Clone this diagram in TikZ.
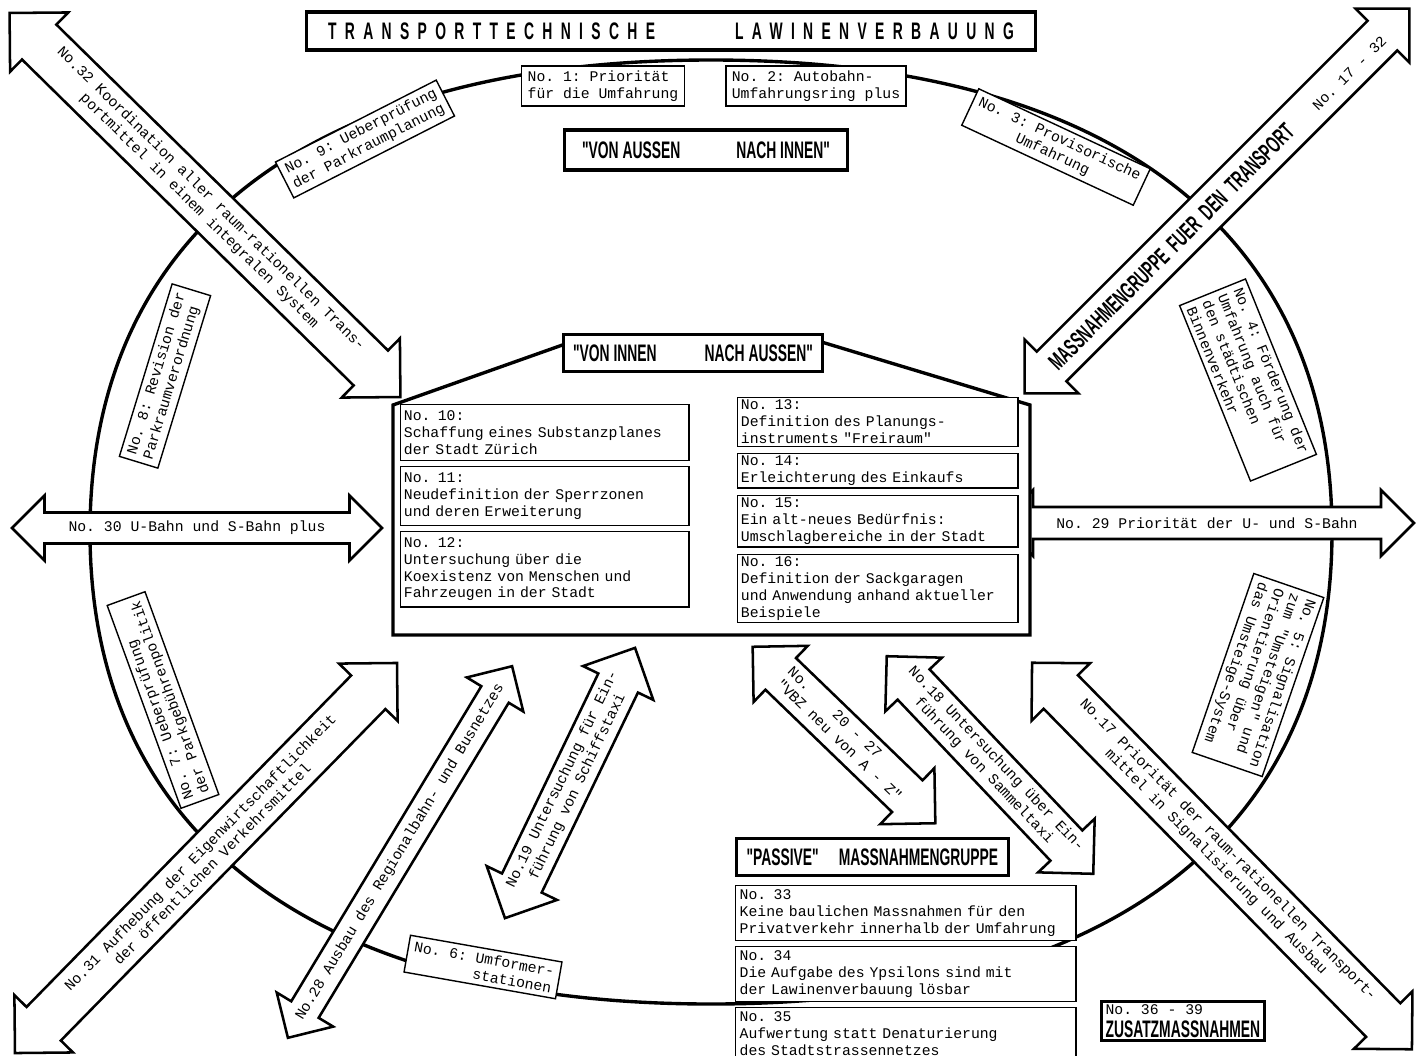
\documentclass[tikz,border=0pt]{standalone}
\usepackage{fontspec}
\setmonofont{Liberation Mono}
\newfontfamily\headfont[FakeStretch=0.58]{Liberation Sans Bold}
\newfontfamily\titlefont[FakeStretch=0.58,LetterSpace=35]{Liberation Sans Bold}
\usetikzlibrary{positioning}

\newcommand{\mono}{\ttfamily\fontsize{10.5}{12}\selectfont}
\newcommand{\heading}{\headfont\fontsize{17}{20}\selectfont}

% double block arrow: name, centre, angle, half length, half shaft, text
\newcommand{\bigarrow}[6]{%
  \begin{scope}[shift={#2},rotate=#3]
    \pgfmathsetmacro{\headw}{#5+17}
    \draw[arrowline] (-#4,0) -- (-#4+\headw,\headw) -- (-#4+\headw,#5)
      -- (#4-\headw,#5) -- (#4-\headw,\headw) -- (#4,0)
      -- (#4-\headw,-\headw) -- (#4-\headw,-#5) -- (-#4+\headw,-#5)
      -- (-#4+\headw,-\headw) -- cycle;
    \node[arrowtext,rotate=#3] (#1) at (0,0) {#6};
  \end{scope}}

\begin{document}
\begin{tikzpicture}[x=0.025cm,y=-0.025cm,
    ringline/.style={line width=2.4pt},
    ringbox/.style={draw,fill=white,line width=1pt,font=\mono,inner xsep=0.15cm,inner ysep=0.12cm,align=left},
    innerbox/.style={draw,fill=white,line width=1pt,font=\mono,inner xsep=0.08cm,align=left},
    leftbox/.style={innerbox,text width=7.05cm,inner ysep=0.15cm},
    rightbox/.style={innerbox,text width=6.85cm,inner ysep=0.06cm},
    headbox/.style={draw,fill=white,line width=2.2pt,font=\heading,inner xsep=0.25cm,inner ysep=0.1cm},
    passbox/.style={draw,fill=white,line width=1pt,font=\mono,inner xsep=0.1cm,inner ysep=0.1cm,text width=8.3cm,align=left},
    arrowline/.style={draw,fill=white,line width=1.8pt,line join=miter},
    arrowtext/.style={font=\mono,align=center,inner sep=0pt},
    house/.style={draw,fill=white,line width=2.4pt,line join=miter}]
  \useasboundingbox (0,0) rectangle (1423,1055);

  % the ring
  \draw[ringline] (1332,532) .. controls (1332,230) and (1108,60) .. (711,60)
    .. controls (314,60) and (90,230) .. (90,532)
    .. controls (90,834) and (314,1004) .. (711,1004)
    .. controls (1108,1004) and (1332,834) .. (1332,532) -- cycle;

  \node[headbox,font=\titlefont\fontsize{17}{20}\selectfont,minimum width=18.2cm,minimum height=0.95cm] (title) at (671,31)
    {TRANSPORTTECHNISCHE\hspace{2cm}LAWINENVERBAUUNG};

  % measures on the ring
  \node[ringbox] (n1) at (603,86) {No. 1: Priorität\\für die Umfahrung};
  \node[ringbox] (n2) at (816,86) {No. 2: Autobahn-\\Umfahrungsring plus};
  \node[ringbox,align=center,rotate=-25] (n3) at (1056,147) {No. 3: Provisorische\\Umfahrung};
  \node[ringbox,rotate=-68] (n4) at (1248,380) {No. 4: Förderung der\\Umfahrung auch für\\den städtischen\\Binnenverkehr};
  \node[ringbox,rotate=-109] (n5) at (1258,675) {No. 5: Signalisation\\zum "Umsteigen" und\\Orientierung über\\das Umsteige-System};
  \node[ringbox,align=right,rotate=-10] (n6) at (483,967) {No. 6: Umformer-\\stationen};
  \node[ringbox,rotate=110] (n7) at (163,700) {No. 7: Ueberprüfung\\der Parkgebührenpolitik};
  \node[ringbox,rotate=73] (n8) at (165,376) {No. 8: Revision der\\Parkraumverordnung};
  \node[ringbox,rotate=27] (n9) at (365,139) {No. 9: Ueberprüfung\\der Parkraumplanung};

  \node[headbox,minimum width=7.07cm,minimum height=1cm] (aussen) at (706,150)
    {"VON AUSSEN\hspace{1.4cm}NACH INNEN"};

  % block arrows
  \bigarrow{a32}{(205,205)}{-44.5}{274}{24.5}{No.32 Koordination aller raum-rationellen Trans-\\portmittel in einem integralen System}
  \bigarrow{atrans}{(1217,201)}{45}{272}{21}{{\heading MASSNAHMENGRUPPE\ \ FUER\ \ DEN\ \ TRANSPORT}\hspace{0.8cm}No. 17 - 32}
  \bigarrow{a30}{(197,528)}{0}{185}{15.5}{No. 30 U-Bahn und S-Bahn plus}
  \bigarrow{a29}{(1207,523)}{0}{207}{16}{No. 29 Priorität der U- und S-Bahn}
  \bigarrow{a31}{(206,858)}{45.6}{273}{24}{No.31 Aufhebung der Eigenwirtschaftlichkeit\\der öffentlichen Verkehrsmittel}
  \bigarrow{a28}{(400,852)}{58.9}{217}{16}{No.28 Ausbau des Regionalbahn- und Busnetzes}
  \bigarrow{a19}{(570,783)}{64.3}{150}{22}{No.19 Untersuchung für Ein-\\führung von Schiffstaxi}
  \bigarrow{a20}{(844,735)}{-44}{127}{22}{\begin{tabular}{@{}l@{}}No.\ \ \ \ 20 - 27\\"VBZ neu von A - Z"\end{tabular}}
  \bigarrow{a18}{(990,765)}{-46.5}{150}{22}{No.18 Untersuchung über Ein-\\führung von Sammeltaxi}
  \bigarrow{a17}{(1222,856)}{-45.5}{271}{24}{No.17 Priorität der raum-rationellen Transport-\\mittel in Signalisierung und Ausbau}

  % inner house
  \draw[house] (393,635) -- (393,405) -- (585,337) -- (805,337) -- (1030,405) -- (1030,635) -- cycle;
  \node[headbox,minimum width=5.75cm,minimum height=0.92cm] (innen) at (693,353)
    {"VON INNEN\hspace{1.2cm}NACH AUSSEN"};

  \node[leftbox,anchor=north west] (c10) at (400,404) {No. 10:\\Schaffung eines Substanzplanes\\der Stadt Zürich};
  \node[leftbox,below=0.12cm of c10] (c11) {No. 11:\\Neudefinition der Sperrzonen\\und deren Erweiterung};
  \node[leftbox,below=0.12cm of c11] (c12) {No. 12:\\Untersuchung über die\\Koexistenz von Menschen und\\Fahrzeugen in der Stadt};
  \node[rightbox,anchor=north west] (c13) at (737,397) {No. 13:\\Definition des Planungs-\\instruments "Freiraum"};
  \node[rightbox,below=0.15cm of c13] (c14) {No. 14:\\Erleichterung des Einkaufs};
  \node[rightbox,below=0.15cm of c14] (c15) {No. 15:\\Ein alt-neues Bedürfnis:\\Umschlagbereiche in der Stadt};
  \node[rightbox,below=0.15cm of c15] (c16) {No. 16:\\Definition der Sackgaragen\\und Anwendung anhand aktueller\\Beispiele};

  % passive group
  \node[headbox,anchor=west,minimum width=6.45cm,minimum height=0.92cm] (passiv) at (735,857)
    {"PASSIVE"\hspace{0.5cm}MASSNAHMENGRUPPE};
  \node[passbox,anchor=north west] (p33) at (735,885) {No. 33\\Keine baulichen Massnahmen für den\\Privatverkehr innerhalb der Umfahrung};
  \node[passbox,below=0.12cm of p33] (p34) {No. 34\\Die Aufgabe des Ypsilons sind mit\\der Lawinenverbauung lösbar};
  \node[passbox,below=0.12cm of p34] (p35) {No. 35\\Aufwertung statt Denaturierung\\des Stadtstrassennetzes};

  \node[headbox,font=\mono,align=left,inner xsep=0.1cm,inner ysep=0.08cm,anchor=north west] (zusatz) at (1100,1000)
    {No. 36 - 39\\[4pt]{\heading ZUSATZMASSNAHMEN}};
\end{tikzpicture}
\end{document}
